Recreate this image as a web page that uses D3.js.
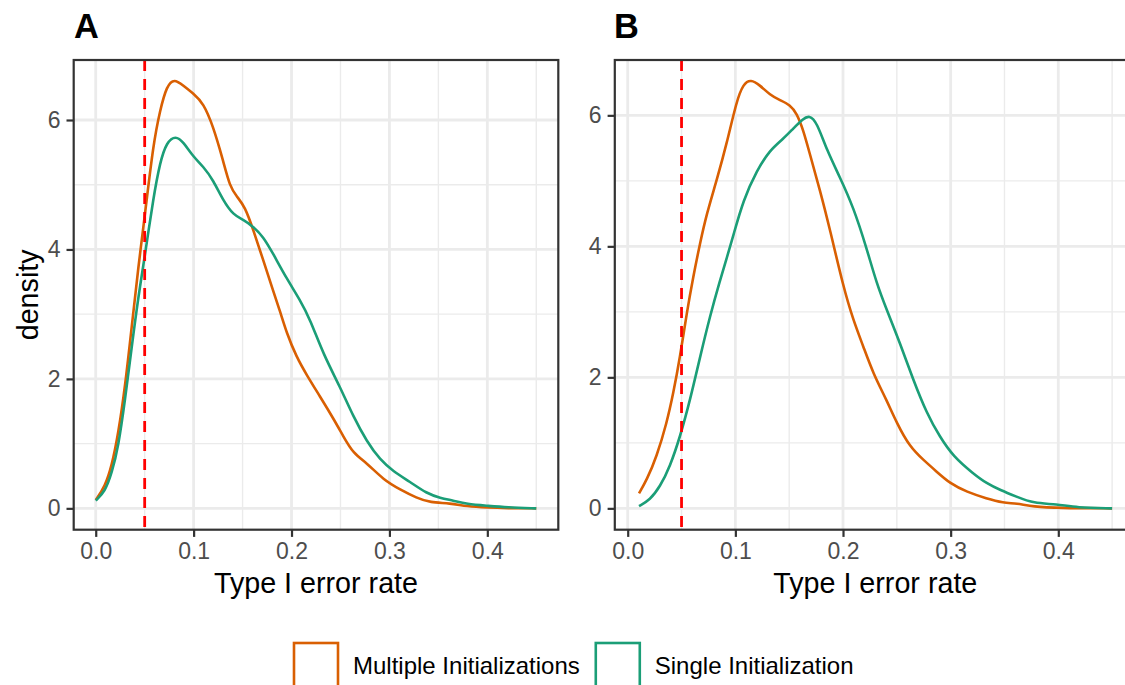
<!DOCTYPE html>
<html>
<head>
<meta charset="utf-8">
<script src="https://cdn.jsdelivr.net/npm/d3@7"></script>
<style>
  html, body { margin: 0; padding: 0; background: #fff; }
  svg { display: block; font-family: "Liberation Sans", Arial, Helvetica, sans-serif; }
</style>
</head>
<body>
<svg id="chart" width="1125" height="685"></svg>
<script>
// ---------------- data ----------------
const seriesNames = ["Multiple Initializations", "Single Initialization"];
const seriesColors = ["#D95F02", "#1B9E77"];
const panelLabels = ["A", "B"];
const xTicks = [0.0, 0.1, 0.2, 0.3, 0.4];
const yTicks = [0, 2, 4, 6];
const alphaLevel = 0.05;

// Panel A – Multiple Initializations: [error rate, density]
const aMultiple = [
  [0.000,0.13],[0.0095,0.34],[0.0163,0.65],[0.0231,1.16],[0.030,1.88],[0.0368,2.81],
  [0.0435,3.73],[0.0504,4.55],[0.0589,5.64],[0.0657,6.15],[0.0725,6.53],[0.0803,6.64],
  [0.0895,6.53],[0.0997,6.41],[0.110,6.26],[0.120,5.90],[0.130,5.38],[0.137,4.97],
  [0.144,4.82],[0.1525,4.66],[0.161,4.30],[0.171,3.84],[0.181,3.37],[0.1882,3.05],
  [0.195,2.71],[0.205,2.34],[0.2155,2.06],[0.229,1.73],[0.2427,1.39],[0.253,1.11],
  [0.263,0.85],[0.277,0.70],[0.294,0.44],[0.311,0.29],[0.328,0.16],[0.3415,0.09],
  [0.362,0.08],[0.379,0.03],[0.400,0.01],[0.420,0.002],[0.450,0.0]
];
// Panel A – Single Initialization
const aSingle = [
  [0.000,0.12],[0.0095,0.26],[0.0163,0.54],[0.0231,0.95],[0.030,1.68],[0.0368,2.50],
  [0.0435,3.27],[0.0504,3.92],[0.0589,4.80],[0.0657,5.35],[0.0725,5.66],[0.0817,5.76],
  [0.0895,5.66],[0.0997,5.43],[0.110,5.28],[0.120,5.07],[0.130,4.76],[0.1406,4.53],
  [0.151,4.46],[0.161,4.35],[0.171,4.20],[0.181,3.94],[0.195,3.55],[0.2087,3.22],
  [0.219,2.92],[0.2325,2.38],[0.2495,1.88],[0.263,1.42],[0.277,1.03],[0.2904,0.75],
  [0.304,0.57],[0.321,0.41],[0.338,0.23],[0.352,0.16],[0.365,0.12],[0.379,0.065],
  [0.400,0.04],[0.420,0.015],[0.450,0.0]
];
// Panel B – Multiple Initializations
const bMultiple = [
  [0.0105,0.23],[0.0176,0.43],[0.0269,0.79],[0.0362,1.30],[0.0424,1.76],[0.0486,2.31],
  [0.0548,2.98],[0.0609,3.54],[0.0672,4.05],[0.0734,4.50],[0.0827,5.01],[0.092,5.57],
  [0.1013,6.23],[0.1074,6.48],[0.1143,6.55],[0.1229,6.46],[0.1322,6.31],[0.1415,6.23],
  [0.1508,6.16],[0.157,6.03],[0.163,5.78],[0.169,5.42],[0.1786,4.86],[0.188,4.25],
  [0.2003,3.38],[0.2096,2.87],[0.2189,2.47],[0.228,2.06],[0.2406,1.65],[0.250,1.30],
  [0.262,0.94],[0.2746,0.74],[0.287,0.56],[0.2994,0.38],[0.315,0.25],[0.3335,0.15],
  [0.349,0.085],[0.361,0.076],[0.377,0.025],[0.400,0.005],[0.450,0.0]
];
// Panel B – Single Initialization
const bSingle = [
  [0.0105,0.035],[0.0207,0.13],[0.030,0.33],[0.0393,0.64],[0.0486,1.09],[0.0579,1.65],
  [0.0672,2.31],[0.0765,2.94],[0.0857,3.48],[0.092,3.82],[0.098,4.16],[0.1074,4.71],
  [0.120,5.16],[0.132,5.47],[0.1445,5.64],[0.1538,5.80],[0.163,5.95],[0.1687,6.00],
  [0.1756,5.90],[0.1849,5.47],[0.197,5.06],[0.2096,4.60],[0.222,3.97],[0.2313,3.43],
  [0.2406,3.03],[0.253,2.52],[0.2653,1.96],[0.2778,1.45],[0.290,1.09],[0.3025,0.79],
  [0.321,0.53],[0.3335,0.38],[0.346,0.28],[0.361,0.18],[0.377,0.076],[0.3985,0.066],
  [0.417,0.01],[0.450,0.0]
];

// ---------------- layout ----------------
const svg = d3.select("#chart");
const W = 1125, H = 685;
svg.append("rect").attr("width", W).attr("height", H).attr("fill", "#fff");

const panels = [
  { label: panelLabels[0], series: [aMultiple, aSingle], xDom: [-0.0225, 0.4725], xRange: [73.7, 558.3],
    yDom: [-0.33, 6.927], yRange: [529.7, 60], yTitle: "density", tagX: 74 },
  { label: panelLabels[1], series: [bMultiple, bSingle], xDom: [-0.012, 0.472], xRange: [614.8, 1135.8],
    yDom: [-0.326, 6.845], yRange: [529.7, 60], yTitle: null, tagX: 614 }
];

const gridCol = "#EBEBEB", borderCol = "#333333", tickTextCol = "#4D4D4D";
const tickFont = 23, titleFont = 28.7;

panels.forEach((p, pi) => {
  const x = d3.scaleLinear().domain(p.xDom).range(p.xRange);
  const y = d3.scaleLinear().domain(p.yDom).range(p.yRange);
  const g = svg.append("g");
  const [x0, x1] = p.xRange, [y0, y1] = [p.yRange[1], p.yRange[0]];

  const clipId = "clip" + pi;
  svg.append("clipPath").attr("id", clipId).append("rect")
    .attr("x", x0).attr("y", y0).attr("width", x1 - x0).attr("height", y1 - y0);
  const inner = g.append("g").attr("clip-path", `url(#${clipId})`);

  // minor grid
  const xMinor = [0.05, 0.15, 0.25, 0.35, 0.45];
  const yMinor = [1, 3, 5];
  inner.selectAll(".xminor").data(xMinor).join("line")
    .attr("x1", d => x(d)).attr("x2", d => x(d)).attr("y1", y0).attr("y2", y1)
    .attr("stroke", gridCol).attr("stroke-width", 1.4);
  inner.selectAll(".yminor").data(yMinor).join("line")
    .attr("y1", d => y(d)).attr("y2", d => y(d)).attr("x1", x0).attr("x2", x1)
    .attr("stroke", gridCol).attr("stroke-width", 1.4);
  // major grid
  inner.selectAll(".xmajor").data(xTicks).join("line")
    .attr("x1", d => x(d)).attr("x2", d => x(d)).attr("y1", y0).attr("y2", y1)
    .attr("stroke", gridCol).attr("stroke-width", 2.8);
  inner.selectAll(".ymajor").data(yTicks).join("line")
    .attr("y1", d => y(d)).attr("y2", d => y(d)).attr("x1", x0).attr("x2", x1)
    .attr("stroke", gridCol).attr("stroke-width", 2.8);

  // density lines
  const line = d3.line().x(d => x(d[0])).y(d => y(d[1])).curve(d3.curveBasis);
  p.series.forEach((s, si) => {
    inner.append("path").datum(s).attr("d", line)
      .attr("fill", "none").attr("stroke", seriesColors[si]).attr("stroke-width", 2.6)
      .attr("stroke-linejoin", "round");
  });

  // reference line
  inner.append("line")
    .attr("x1", x(alphaLevel)).attr("x2", x(alphaLevel)).attr("y1", y0).attr("y2", y1)
    .attr("stroke", "#FF0000").attr("stroke-width", 2.8).attr("stroke-dasharray", "11,8");

  // border
  g.append("rect").attr("x", x0).attr("y", y0).attr("width", x1 - x0).attr("height", y1 - y0)
    .attr("fill", "none").attr("stroke", borderCol).attr("stroke-width", 2.2);

  // axes
  const xAxis = d3.axisBottom(x).tickValues(xTicks).tickFormat(d3.format(".1f"))
    .tickSizeInner(7.2).tickSizeOuter(0).tickPadding(6);
  const gx = g.append("g").attr("transform", `translate(0,${y1})`).call(xAxis);
  gx.select(".domain").remove();
  gx.selectAll(".tick line").attr("stroke", borderCol).attr("stroke-width", 2.2);
  gx.selectAll(".tick text").attr("fill", tickTextCol).attr("font-size", tickFont)
    .attr("font-family", "Liberation Sans, Arial, sans-serif");

  const yAxis = d3.axisLeft(y).tickValues(yTicks).tickFormat(d3.format("d"))
    .tickSizeInner(7.2).tickSizeOuter(0).tickPadding(6);
  const gy = g.append("g").attr("transform", `translate(${x0},0)`).call(yAxis);
  gy.select(".domain").remove();
  gy.selectAll(".tick line").attr("stroke", borderCol).attr("stroke-width", 2.2);
  gy.selectAll(".tick text").attr("fill", tickTextCol).attr("font-size", tickFont)
    .attr("font-family", "Liberation Sans, Arial, sans-serif");

  // axis titles
  g.append("text").attr("x", (x0 + x1) / 2).attr("y", 593).attr("text-anchor", "middle")
    .attr("font-size", titleFont).attr("fill", "#000").text("Type I error rate");
  if (p.yTitle) {
    g.append("text").attr("transform", `translate(38,${(y0 + y1) / 2}) rotate(-90)`)
      .attr("text-anchor", "middle").attr("font-size", titleFont).attr("fill", "#000").text(p.yTitle);
  }
  // tag
  g.append("text").attr("x", p.tagX).attr("y", 38).attr("font-size", 34.4)
    .attr("font-weight", "bold").attr("fill", "#000").text(p.label);
});

// ---------------- legend ----------------
const legend = svg.append("g");
const keyW = 44, keyH = 45, keyY = 643;
let lx = 294;
seriesNames.forEach((name, i) => {
  legend.append("rect").attr("x", lx).attr("y", keyY).attr("width", keyW).attr("height", keyH)
    .attr("fill", "#fff").attr("stroke", seriesColors[i]).attr("stroke-width", 2.6);
  const t = legend.append("text").attr("x", lx + keyW + 15).attr("y", keyY + keyH / 2 + 8.6)
    .attr("font-size", 24).attr("fill", "#000").text(name);
  lx = lx + keyW + 15 + t.node().getComputedTextLength() + 16;
});
</script>
</body>
</html>
